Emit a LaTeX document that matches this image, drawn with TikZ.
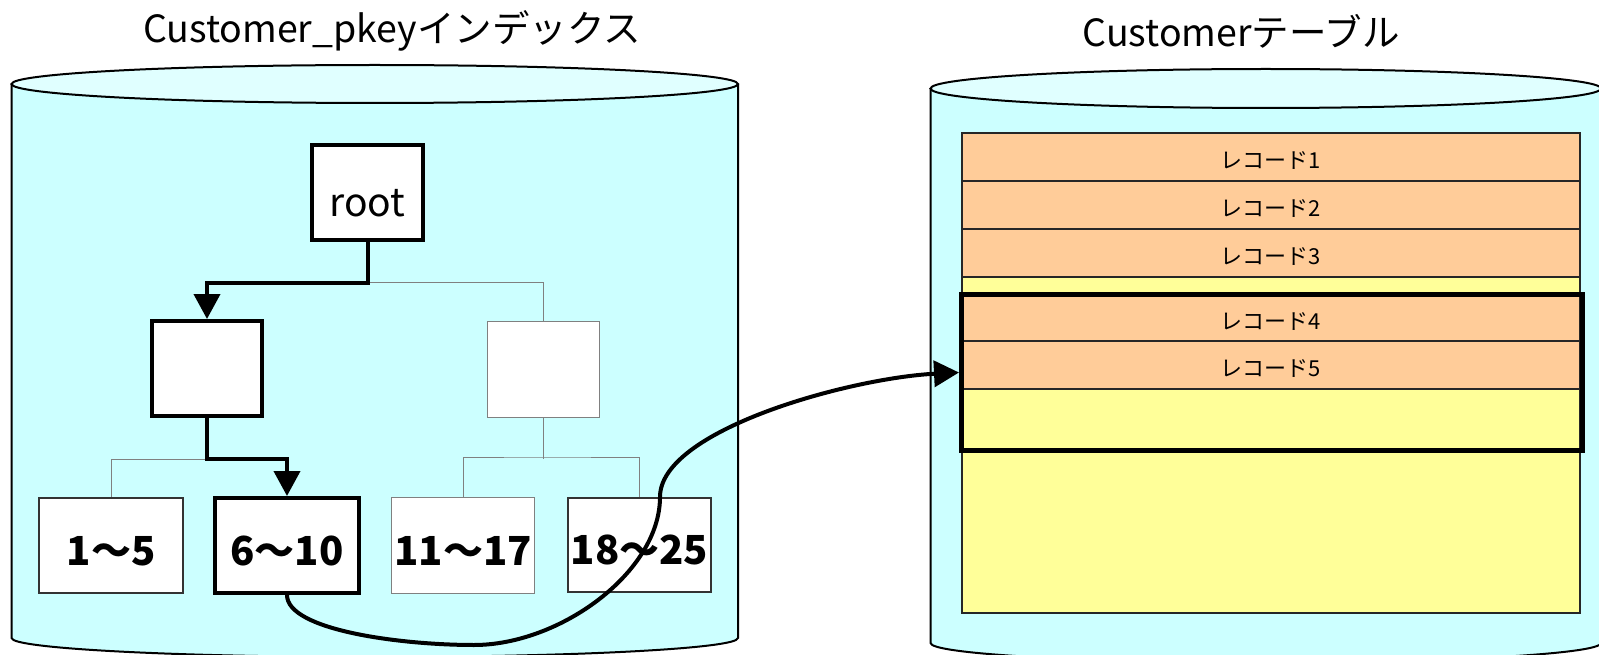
\documentclass[tikz,border=0pt]{standalone}
\usepackage{fontspec}
\setmainfont{Noto Sans CJK JP}
\usetikzlibrary{arrows.meta}
\definecolor{cylbody}{HTML}{CCFFFF}
\definecolor{cyltop}{HTML}{E0FFFF}
\definecolor{rec}{HTML}{FFCC99}
\definecolor{freesp}{HTML}{FFFF99}
\definecolor{treeline}{HTML}{808080}
\definecolor{boxline}{HTML}{333333}
\begin{document}
\begin{tikzpicture}[x=1pt,y=-1pt,
  cylline/.style={line width=2pt, draw=black},
  titletext/.style={font=\fontsize{37.5}{42}\selectfont, inner sep=0pt},
  bnode/.style={draw=black, line width=4pt, fill=white, inner sep=0pt},
  gnode/.style={draw=treeline, line width=1pt, fill=white, inner sep=0pt},
  mnode/.style={draw=boxline, line width=2pt, fill=white, inner sep=0pt},
  leaftext/.style={font=\fontsize{40}{44}\selectfont\bfseries, text height=39pt, text depth=0pt},
  thinline/.style={draw=treeline, line width=1pt},
  route/.style={draw=black, line width=4pt},
  arr/.style={-{Triangle[length=25pt,width=26pt]}},
  recrow/.style={draw=black!85, line width=1.5pt, fill=rec, minimum width=618pt, inner sep=0pt,
    font=\fontsize{22}{24}\selectfont, text height=23pt, text depth=0pt},
]
\useasboundingbox (0,0) rectangle (1599,655);

% ---------- left cylinder ----------
\fill[cylbody] (11.5,84) -- (11.5,638) .. controls (11.5,648.5) and (174.1,657) .. (374.75,657)
  .. controls (575.4,657) and (738,648.5) .. (738,638) -- (738,84) -- cycle;
\draw[cylline] (11.5,84) -- (11.5,638) .. controls (11.5,648.5) and (174.1,657) .. (374.75,657)
  .. controls (575.4,657) and (738,648.5) .. (738,638) -- (738,84);
\draw[cylline, fill=cyltop] (374.75,84) ellipse [x radius=363.25pt, y radius=19pt];

% ---------- right cylinder ----------
\fill[cylbody] (930.5,88.5) -- (930.5,643) .. controls (930.5,653.8) and (1080.55,662.5) .. (1265.75,662.5)
  .. controls (1450.95,662.5) and (1601,653.8) .. (1601,643) -- (1601,88.5) -- cycle;
\draw[cylline] (930.5,88.5) -- (930.5,643) .. controls (930.5,653.8) and (1080.55,662.5) .. (1265.75,662.5)
  .. controls (1450.95,662.5) and (1601,653.8) .. (1601,643) -- (1601,88.5);
\draw[cylline, fill=cyltop] (1265.75,88.5) ellipse [x radius=335.25pt, y radius=19.5pt];

% ---------- titles ----------
\node[titletext] (t1) at (392,31) {Customer\_pkeyインデックス};
\node[titletext] (t2) at (1241,31) {Customerテーブル};

% ---------- index tree ----------
\node[bnode, minimum width=111pt, minimum height=95pt, font=\fontsize{39}{42}\selectfont,
  text height=48pt, text depth=0pt] (root) at (367.5,192.5) {root};
\node[bnode, minimum width=110pt, minimum height=95pt] (lc) at (207,368.5) {};
\node[gnode, minimum width=112pt, minimum height=96pt] (rc) at (543.5,369.5) {};

\node[mnode, leaftext, minimum width=144pt, minimum height=95pt] (l1) at (111,545.5) {1～5};
\node[bnode, leaftext, minimum width=144pt, minimum height=95pt] (l2) at (287,545.5) {6～10};
\node[gnode, leaftext, minimum width=143pt, minimum height=96pt] (l3) at (463,545.5) {11～17};
\node[mnode, leaftext, minimum width=143pt, minimum height=94pt] (l4) at (639.5,545) {18～25};

\draw[thinline] (root.south) ++(0,41) -| (rc.north);
\draw[thinline] (lc.south) ++(0,41) -| (l1.north);
\draw[thinline] (rc.south) -- ++(0,41);
\draw[thinline] (l3.north) |- (rc.south |- l3.north |- 0,457) -| (l4.north);

\draw[route, arr] (root.south) -- ++(0,41) -| (lc.north);
\draw[route, arr] (lc.south) -- ++(0,41) -| (l2.north);

% ---------- table ----------
\node[draw=black!85, line width=1.5pt, fill=freesp, minimum width=618pt, minimum height=480pt, inner sep=0pt] (tbl) at (1271,373) {};
\node[recrow, minimum height=48pt] (r1) at (1271,157) {レコード1};
\node[recrow, minimum height=48pt] (r2) at (1271,205) {レコード2};
\node[recrow, minimum height=48pt] (r3) at (1271,253) {レコード3};
\node[recrow, minimum height=47pt] (r4) at (1271,317.5) {レコード4};
\node[recrow, minimum height=48pt] (r5) at (1271,365) {レコード5};
\node[draw=black, line width=5pt, minimum width=621pt, minimum height=156pt, inner sep=0pt] (sel) at (1272,372.5) {};

% ---------- pointer ----------
\draw[route, arr] (l2.south) .. controls (287,630) and (400,645) .. (474,645)
  .. controls (560,645) and (660,572) .. (660,497)
  .. controls (660,430) and (850,378) .. (sel.west);
\end{tikzpicture}
\end{document}
